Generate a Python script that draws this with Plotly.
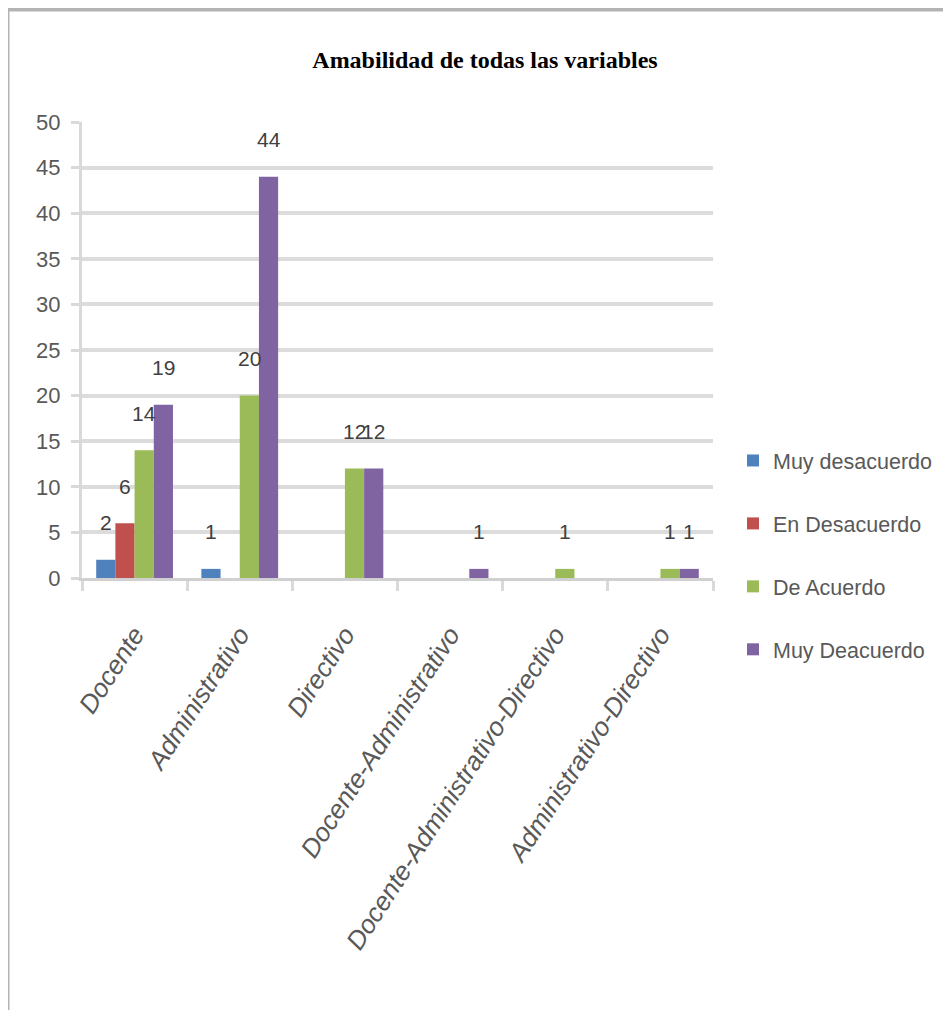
import plotly.graph_objects as go

categories = ["Docente", "Administrativo", "Directivo", "Docente-Administrativo",
              "Docente-Administrativo-Directivo", "Administrativo-Directivo"]
muy_desacuerdo = [2, 1, None, None, None, None]
en_desacuerdo = [6, None, None, None, None, None]
de_acuerdo = [14, 20, 12, None, 1, 1]
muy_deacuerdo = [19, 44, 12, 1, None, 1]

series_names = ["Muy desacuerdo", "En Desacuerdo", "De Acuerdo", "Muy Deacuerdo"]
series_values = [muy_desacuerdo, en_desacuerdo, de_acuerdo, muy_deacuerdo]
series_colors = ["#4f81bd", "#c0504d", "#9bbb59", "#8064a2"]

FONT = "Liberation Sans, Arial, sans-serif"
GRAY = "#595959"

# page has an 8px body margin: convert screenshot pixels to figure pixels
OFF = 8
W, H = 951 - OFF, 1021 - OFF
L = 82 - OFF
R = W - (713 - OFF)
T = 122 - OFF
B = H - (578 - OFF)
pw = W - L - R
ph = H - T - B
BARGAP = 0.27


def px_x(p):
    return (p - OFF - L) / pw


def px_y(p):
    return (H - B - (p - OFF)) / ph


fig = go.Figure()
cat_px = pw / len(categories)
bar_px = cat_px * (1 - BARGAP) / len(series_names)
for i, (name, vals, col) in enumerate(zip(series_names, series_values, series_colors)):
    fig.add_trace(go.Bar(
        name=name, x=categories, y=vals, marker_color=col,
        marker_line_width=0, legendgroup=f"g{i}",
    ))
    xshift = (i - (len(series_names) - 1) / 2) * bar_px
    for c, v in zip(categories, vals):
        if v is None:
            continue
        fig.add_annotation(x=c, y=v, xref="x", yref="y", text=str(v),
                           showarrow=False, xshift=xshift, yshift=37,
                           xanchor="center", yanchor="middle",
                           font=dict(family=FONT, size=21, color="#404040"))

fig.update_layout(
    width=W, height=H,
    margin=dict(l=L, r=R, t=T, b=B, autoexpand=False),
    paper_bgcolor="white", plot_bgcolor="white",
    barmode="group", bargap=BARGAP, bargroupgap=0,
    title=dict(text="<b>Amabilidad de todas las variables</b>",
               x=(485 - OFF) / W, xanchor="center", y=1 - (60 - OFF) / H, yanchor="middle",
               font=dict(family="Liberation Serif, Times New Roman, serif", size=24, color="#000000")),
    legend=dict(x=px_x(733), xanchor="left", y=px_y(440), yanchor="top",
                font=dict(family=FONT, size=21.5, color=GRAY),
                tracegroupgap=32, itemwidth=30, bgcolor="rgba(0,0,0,0)"),
    xaxis=dict(
        showgrid=False, showline=True, linecolor="#d0d0d0", linewidth=3,
        ticks="outside", tickson="boundaries", ticklen=10, tickcolor="#d9d9d9", tickwidth=3,
        tickangle=-57, ticklabelstandoff=28,
        tickfont=dict(family=FONT, size=26, color=GRAY, style="italic"),
        range=[-0.5, 5.5], automargin=False,
    ),
    yaxis=dict(
        range=[0, 50], dtick=5, showgrid=True, gridcolor="#dcdcdc", gridwidth=4,
        showline=True, linecolor="#d9d9d9", linewidth=3,
        ticks="outside", ticklen=8, tickcolor="#d9d9d9", tickwidth=3,
        ticklabelstandoff=6,
        tickfont=dict(family=FONT, size=22, color=GRAY),
        zeroline=False, automargin=False,
    ),
    showlegend=True,
)

# outer chart border (top and left edges)
fig.add_shape(type="line", xref="paper", yref="paper",
              x0=px_x(8), x1=px_x(960), y0=px_y(9.5), y1=px_y(9.5),
              line=dict(color="#b3b3b3", width=4))
fig.add_shape(type="line", xref="paper", yref="paper",
              x0=px_x(8), x1=px_x(8), y0=px_y(9.5), y1=px_y(1010),
              line=dict(color="#b3b3b3", width=3))

fig.write_html("out.html")
